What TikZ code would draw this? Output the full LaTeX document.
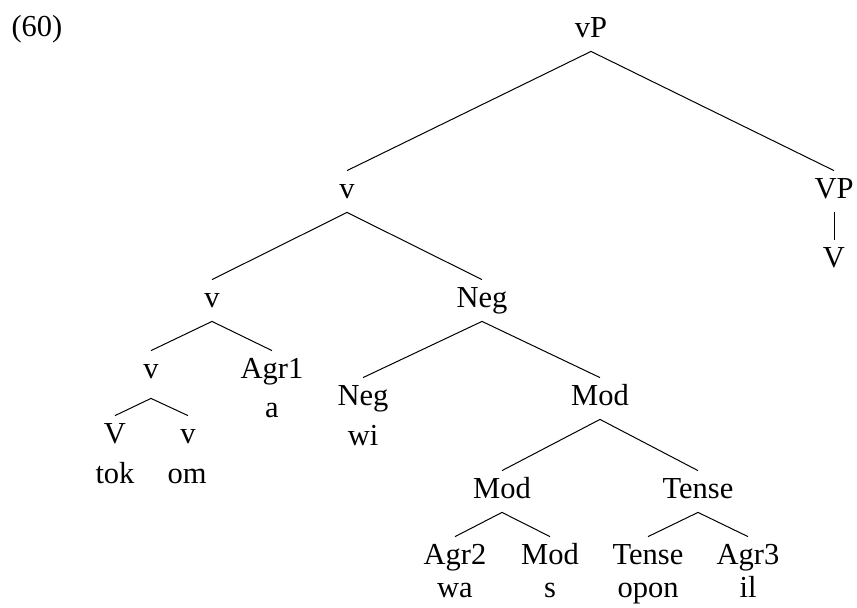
\documentclass[tikz,border=0pt]{standalone}
\usepackage{fontspec}
\setmainfont{Liberation Serif}
\usepackage{tikz}
\usetikzlibrary{positioning}

\begin{document}
\begin{tikzpicture}[
    x=0.5pt, y=-0.5pt,
    treenode/.style={inner sep=0pt, text height=13.5pt, text depth=7pt, anchor=base,
      font=\fontsize{15.25}{18}\selectfont},
    wordnode/.style={inner sep=0pt, anchor=base, font=\fontsize{15.25}{18}\selectfont}
    ]
    \useasboundingbox (0,0) rectangle (857,607);

    \node[wordnode] (ex) at (37,36) {(60)};

    \node[treenode] (vp) at (591,37) {vP};
    \node[treenode] (v1) at (347,198) {v};
    \node[treenode] (VP) at (834,198) {VP};
    \node[treenode] (V0) at (834,267) {V};
    \node[treenode] (v2) at (212,307) {v};
    \node[treenode] (neg1) at (482,307) {Neg};
    \node[treenode] (v3) at (151,378) {v};
    \coordinate (v3b) at ([yshift=-3pt]v3.south);
    \node[treenode] (agr1) at (272,378) {Agr1};
    \node[wordnode] (agr1w) at (272,417) {a};
    \node[treenode] (V4) at (115,443) {V};
    \node[wordnode] (V4w) at (115,483) {tok};
    \node[treenode] (v4) at (188,443) {v};
    \node[wordnode] (v4w) at (187,483) {om};
    \node[treenode] (neg2) at (363,405) {Neg};
    \node[wordnode] (neg2w) at (363,445) {wi};
    \node[treenode] (mod1) at (600,405) {Mod};
    \node[treenode] (mod2) at (502,498) {Mod};
    \node[treenode] (tense1) at (698,498) {Tense};
    \node[treenode] (agr2) at (455,564) {Agr2};
    \node[wordnode] (agr2w) at (455,597) {wa};
    \node[treenode] (mod3) at (550,564) {Mod};
    \node[wordnode] (mod3w) at (550,597) {s};
    \node[treenode] (tense2) at (648,564) {Tense};
    \node[wordnode] (tense2w) at (648,597) {opon};
    \node[treenode] (agr3) at (748,564) {Agr3};
    \node[wordnode] (agr3w) at (748,597) {il};

    \path[line width=0.5pt]
    (vp.south) edge (v1.north)
    (vp.south) edge (VP.north)
    (VP.south) edge (V0.north)
    (v1.south) edge (v2.north)
    (v1.south) edge (neg1.north)
    (v2.south) edge (v3.north)
    (v2.south) edge (agr1.north)
    (v3b) edge (V4.north)
    (v3b) edge (v4.north)
    (neg1.south) edge (neg2.north)
    (neg1.south) edge (mod1.north)
    (mod1.south) edge (mod2.north)
    (mod1.south) edge (tense1.north)
    (mod2.south) edge (agr2.north)
    (mod2.south) edge (mod3.north)
    (tense1.south) edge (tense2.north)
    (tense1.south) edge (agr3.north)
    ;

  \end{tikzpicture}
\end{document}
